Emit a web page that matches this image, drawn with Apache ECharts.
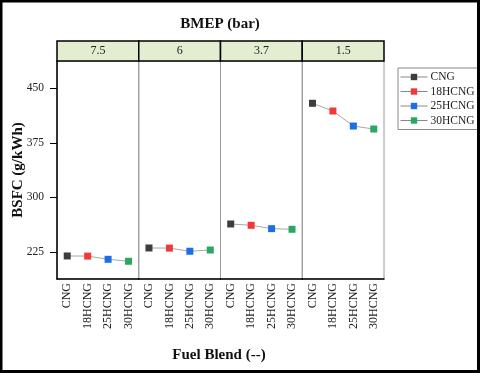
<!DOCTYPE html>
<html>
<head>
<meta charset="utf-8">
<script src="https://cdn.jsdelivr.net/npm/echarts@6/dist/echarts.min.js"></script>
<style>
  html, body { margin: 0; padding: 0; background: #fff; }
  #chart { width: 480px; height: 373px; }
</style>
</head>
<body>
<div id="chart"></div>
<script>
  // panels (BMEP, bar) and fuel blends
  var bmep = ['7.5', '6', '3.7', '1.5']
  var fuels = ['CNG', '18HCNG', '25HCNG', '30HCNG']
  var fuelColors = ['#3d3d3d', '#f03a3a', '#1c6ee8', '#2aa860']

  // BSFC (g/kWh), one array per panel
  var bsfc75 = [219.2, 219.0, 214.6, 211.9]
  var bsfc6 = [230.2, 230.0, 225.7, 227.4]
  var bsfc37 = [263.2, 261.4, 256.8, 255.9]
  var bsfc15 = [429.3, 418.7, 398.0, 393.9]
  var panelData = [bsfc75, bsfc6, bsfc37, bsfc15]

  var yTicks = [225, 300, 375, 450]
  var yMin = 187.5
  var yMax = 487.5

  var font = '"Liberation Serif", "DejaVu Serif", serif'
  var plotLeft = 57
  var plotTop = 61
  var plotH = 218
  var panelW = 81.75

  var chart = echarts.init(document.getElementById('chart'))

  var grids = []
  var xAxes = []
  var yAxes = []
  var series = []
  var graphics = []

  bmep.forEach(function (b, i) {
    var left = plotLeft + i * panelW
    grids.push({
      left: left, top: plotTop, width: panelW, height: plotH,
      show: true, borderColor: '#9a9a9a', borderWidth: 1
    })
    xAxes.push({
      type: 'category', gridIndex: i, data: fuels, boundaryGap: true,
      axisLine: { lineStyle: { color: '#000', width: 1.5 } },
      axisTick: { alignWithLabel: true, length: 4, lineStyle: { color: '#000' } },
      axisLabel: { rotate: 90, fontFamily: font, fontSize: 12, color: '#222', margin: 4 }
    })
    yAxes.push({
      type: 'value', gridIndex: i, min: yMin, max: yMax,
      splitLine: { show: false },
      axisLine: { show: i === 0, lineStyle: { color: '#000', width: 1.5 } },
      axisTick: { show: i === 0, customValues: yTicks, length: 7, lineStyle: { color: '#000' } },
      axisLabel: { show: i === 0, customValues: yTicks, fontFamily: font, fontSize: 11.5, color: '#222', margin: 13 },
      name: i === 0 ? 'BSFC (g/kWh)' : '',
      nameLocation: 'middle', nameGap: 31, nameMoveOverlap: false,
      nameTextStyle: { fontFamily: font, fontSize: 15, fontWeight: 'bold', color: '#111' }
    })

    // gray connecting line in each panel
    series.push({
      type: 'line', name: 'BMEP ' + b, xAxisIndex: i, yAxisIndex: i,
      data: panelData[i], symbol: 'none', silent: true,
      lineStyle: { color: '#a8a8a8', width: 1 }, z: 2
    })
    // coloured square per fuel
    fuels.forEach(function (f, k) {
      var d = panelData[i].map(function (v, j) { return j === k ? v : '-' })
      series.push({
        type: 'line', name: f, xAxisIndex: i, yAxisIndex: i, data: d,
        symbol: 'rect', symbolSize: 7, showSymbol: true,
        itemStyle: { color: fuelColors[k] },
        lineStyle: { color: '#a8a8a8', width: 1 }, z: 3
      })
    })

    // panel header strip
    graphics.push({
      type: 'rect', shape: { x: left, y: 41, width: panelW, height: 20 },
      style: { fill: '#e3edd0', stroke: '#000', lineWidth: 1.5 }, z: 10
    })
    graphics.push({
      type: 'text', x: left + panelW / 2, y: 51, z: 11,
      style: { text: b, font: '12px ' + font, fill: '#222', align: 'center', verticalAlign: 'middle' }
    })
  })

  // minor ticks: boundary ticks on x, half-steps on the left y axis
  bmep.forEach(function (b, i) {
    xAxes.push({
      type: 'category', gridIndex: i, data: fuels, boundaryGap: true,
      axisLine: { show: false }, axisLabel: { show: false },
      axisTick: { length: 2.5, lineStyle: { color: '#000' } }
    })
  })
  yAxes.push({
    type: 'value', gridIndex: 0, min: yMin, max: yMax, interval: 37.5,
    splitLine: { show: false }, axisLine: { show: false }, axisLabel: { show: false },
    axisTick: { length: 3.5, lineStyle: { color: '#000' } }
  })

  graphics.push({
    type: 'text', x: 220, y: 24,
    style: { text: 'BMEP (bar)', font: 'bold 15px ' + font, fill: '#111', align: 'center', verticalAlign: 'middle' }
  })
  graphics.push({
    type: 'text', x: 219, y: 355,
    style: { text: 'Fuel Blend (--)', font: 'bold 15px ' + font, fill: '#111', align: 'center', verticalAlign: 'middle' }
  })
  graphics.push({
    type: 'rect', shape: { x: 1, y: 1, width: 477.5, height: 370.5 },
    style: { fill: 'none', stroke: '#000', lineWidth: 3 }, z: 20
  })

  chart.setOption({
    backgroundColor: '#fff',
    animation: false,
    grid: grids,
    xAxis: xAxes,
    yAxis: yAxes,
    legend: {
      data: fuels,
      orient: 'vertical',
      left: 398, top: 68,
      itemWidth: 27, itemHeight: 8, itemGap: 2.5,
      padding: [3, 3, 3, 2],
      borderColor: '#888', borderWidth: 1,
      lineStyle: { color: '#888', width: 1 },
      textStyle: { fontFamily: font, fontSize: 11.5, color: '#222', padding: [0, 0, 0, -2] }
    },
    graphic: graphics,
    series: series
  })
</script>
</body>
</html>
